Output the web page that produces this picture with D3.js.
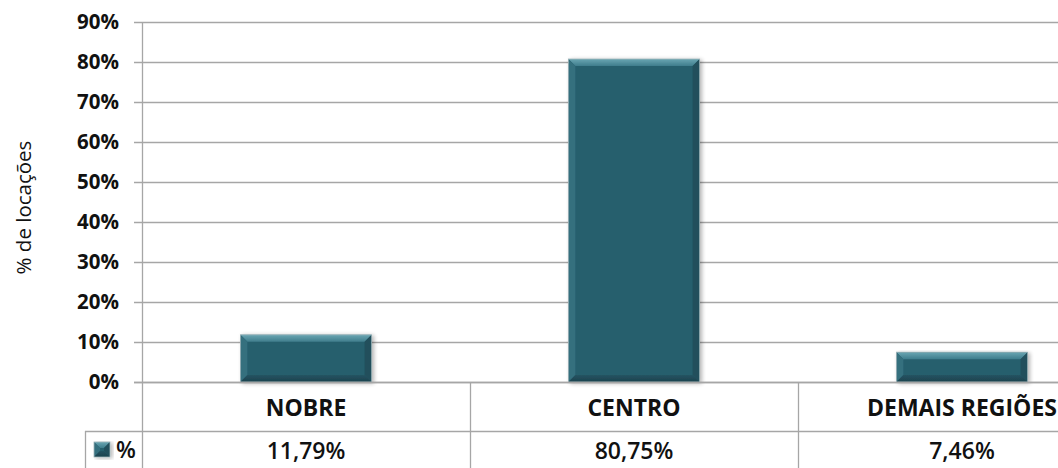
<!DOCTYPE html>
<html><head><meta charset="utf-8">
<script src="https://cdn.jsdelivr.net/npm/d3@7"></script>
<style>
html,body{margin:0;padding:0;background:#fff;}
svg{display:block;font-family:"Open Sans",sans-serif;}
</style></head>
<body><svg id="c" width="1058" height="468"></svg>
<script>
const categories = ["NOBRE", "CENTRO", "DEMAIS REGIÕES"];
const values = [11.79, 80.75, 7.46];
const valueLabels = ["11,79%", "80,75%", "7,46%"];
const tickValues = [0, 10, 20, 30, 40, 50, 60, 70, 80, 90];
const seriesName = "%";
const yTitle = "% de locações";

(function(){
const svg = d3.select("#c");
const left = 142, topY = 22, bottom = 382, step = 328;
const x = d3.scaleBand().domain(categories).range([left, left + step * categories.length]).paddingInner(0.6).paddingOuter(0.3);
const y = d3.scaleLinear().domain([0, 90]).range([bottom, topY]);
const row1 = 431;
const grid = "#a6a6a6";

const defs = svg.append("defs");
const g1 = defs.append("linearGradient").attr("id","topb").attr("x1",0).attr("y1",0).attr("x2",0).attr("y2",1);
g1.append("stop").attr("offset","0").attr("stop-color","#6aa6b3");
g1.append("stop").attr("offset","1").attr("stop-color","#3f7d8c");
const g2 = defs.append("linearGradient").attr("id","botb").attr("x1",0).attr("y1",0).attr("x2",0).attr("y2",1);
g2.append("stop").attr("offset","0").attr("stop-color","#255362");
g2.append("stop").attr("offset","1").attr("stop-color","#1c424d");
const f = defs.append("filter").attr("id","sh").attr("x","-10%").attr("y","-10%").attr("width","130%").attr("height","130%");
f.append("feGaussianBlur").attr("in","SourceAlpha").attr("stdDeviation",2);
f.append("feOffset").attr("dx",2).attr("dy",1).attr("result","o");
f.append("feComponentTransfer").append("feFuncA").attr("type","linear").attr("slope",0.3);
const fm = f.append("feMerge"); fm.append("feMergeNode"); fm.append("feMergeNode").attr("in","SourceGraphic");

// gridlines
svg.append("g").selectAll("line").data(tickValues).join("line")
  .attr("x1", left - 8).attr("x2", 1058).attr("y1", d => y(d)+0.5).attr("y2", d => y(d)+0.5)
  .attr("stroke", grid).attr("stroke-width", 1.3);

// y axis line
svg.append("line").attr("x1", left+0.5).attr("x2", left+0.5).attr("y1", topY).attr("y2", 468)
  .attr("stroke", grid).attr("stroke-width", 1.3);

// tick labels
svg.append("g").selectAll("text").data(tickValues).join("text")
  .attr("x", 119).attr("y", d => y(d)).attr("dy", "0.36em").attr("text-anchor", "end")
  .attr("font-size", 20.5).attr("font-weight", "bold").attr("fill", "#111")
  .text(d => d + "%");

// axis title
svg.append("text").attr("transform", `translate(31,${(140+275)/2}) rotate(-90)`)
  .attr("text-anchor","middle").attr("font-size", 20.5).attr("fill","#111").text(yTitle);

// bars
function bevelBar(g, x0, y0, w, h) {
  const b = Math.min(7, h/2.5);
  const grp = g.append("g").attr("filter","url(#sh)");
  grp.append("rect").attr("x", x0).attr("y", y0).attr("width", w).attr("height", h).attr("fill", "#285e6d");
  grp.append("polygon").attr("points", [[x0,y0],[x0+w,y0],[x0+w-b,y0+b],[x0+b,y0+b]].join(" ")).attr("fill","url(#topb)");
  grp.append("polygon").attr("points", [[x0,y0],[x0+b,y0+b],[x0+b,y0+h-b],[x0,y0+h]].join(" ")).attr("fill","#346f7e");
  grp.append("polygon").attr("points", [[x0+w,y0],[x0+w,y0+h],[x0+w-b,y0+h-b],[x0+w-b,y0+b]].join(" ")).attr("fill","#214f5b");
  grp.append("polygon").attr("points", [[x0,y0+h],[x0+b,y0+h-b],[x0+w-b,y0+h-b],[x0+w,y0+h]].join(" ")).attr("fill","url(#botb)");
  grp.append("rect").attr("x", x0).attr("y", y0).attr("width", w).attr("height", h).attr("fill","none").attr("stroke","#9fb5ba").attr("stroke-width",0.8);
}
const barsG = svg.append("g");
categories.forEach((c, i) => {
  bevelBar(barsG, x(c), y(values[i]), x.bandwidth(), y(0) - y(values[i]));
});

// table lines
svg.append("line").attr("x1", left - 8).attr("x2", 1058).attr("y1", bottom+0.5).attr("y2", bottom+0.5).attr("stroke", grid).attr("stroke-width",1.3);
svg.append("line").attr("x1", 85).attr("x2", 1058).attr("y1", row1+0.5).attr("y2", row1+0.5).attr("stroke", grid).attr("stroke-width",1.3);
svg.append("line").attr("x1", 85.5).attr("x2", 85.5).attr("y1", row1).attr("y2", 468).attr("stroke", grid).attr("stroke-width",1.3);
svg.append("g").selectAll("line").data(categories.slice(1)).join("line")
  .attr("x1", d => x(d) - x.step()*x.paddingInner()/2 + 0.5).attr("x2", d => x(d) - x.step()*x.paddingInner()/2 + 0.5)
  .attr("y1", bottom).attr("y2", 468).attr("stroke", grid).attr("stroke-width",1.3);

// category labels
svg.append("g").selectAll("text").data(categories).join("text")
  .attr("x", d => x(d) + x.bandwidth()/2).attr("y", 416).attr("text-anchor","middle")
  .attr("font-size", 23).attr("font-weight","bold").attr("fill","#111").text(d => d);

// values
svg.append("g").selectAll("text").data(valueLabels).join("text")
  .attr("x", (d,i) => x(categories[i]) + x.bandwidth()/2).attr("y", 459).attr("text-anchor","middle")
  .attr("font-size", 23).attr("font-weight", 600).attr("fill","#111").text(d => d);

// legend
const lg = svg.append("g");
bevelBar(lg, 94, 442, 16, 15);
lg.append("text").attr("x", 116).attr("y", 458).attr("font-size", 23).attr("font-weight", 600).attr("fill","#111").text(seriesName);
})();
</script></body></html>
